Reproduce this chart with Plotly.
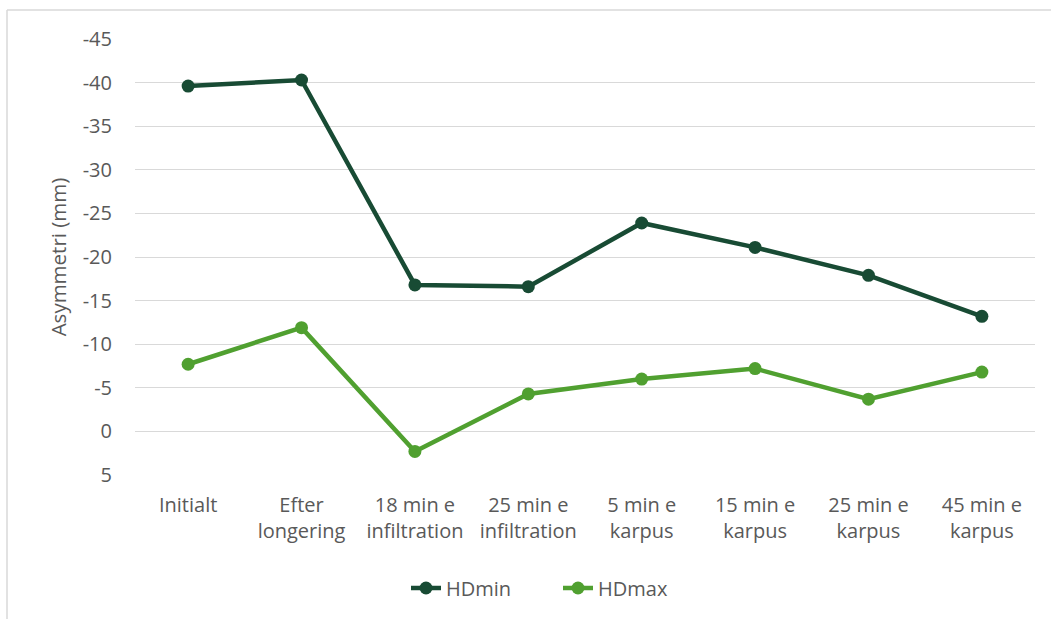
import plotly.graph_objects as go

categories = ["Initialt", "Efter<br>longering", "18 min e<br>infiltration", "25 min e<br>infiltration",
              "5 min e<br>karpus", "15 min e<br>karpus", "25 min e<br>karpus", "45 min e<br>karpus"]
hdmin = [-39.6, -40.3, -16.8, -16.6, -23.9, -21.1, -17.9, -13.2]
hdmax = [-7.7, -11.9, 2.3, -4.3, -6.0, -7.2, -3.7, -6.8]
y_ticks = [5, 0, -5, -10, -15, -20, -25, -30, -35, -40, -45]

FONT = "Open Sans"
GRAY = "#595959"

fig = go.Figure()
fig.add_trace(go.Scatter(x=categories, y=hdmin, name="HDmin", mode="lines+markers",
                         line=dict(color="#184B34", width=4.5), marker=dict(size=13, color="#184B34")))
fig.add_trace(go.Scatter(x=categories, y=hdmax, name="HDmax", mode="lines+markers",
                         line=dict(color="#50A030", width=4.5), marker=dict(size=13, color="#50A030")))

W, H = 1051, 619
L, R, T, B = 135, 16, 39, 144
pw, ph = W - L - R, H - T - B

def px(x):
    return (x - L) / pw

def py(y):
    return (H - B - y) / ph

fig.update_layout(
    width=W, height=H,
    margin=dict(l=L, r=R, t=T, b=B),
    paper_bgcolor="white", plot_bgcolor="white",
    font=dict(family=FONT, color=GRAY, size=20),
    showlegend=True,
    legend=dict(orientation="h", x=px(406), xanchor="left", y=py(588), yanchor="middle",
                font=dict(size=20, color=GRAY), traceorder="normal",
                entrywidth=107, entrywidthmode="pixels"),
    xaxis=dict(showgrid=False, showline=False, ticks="", ticklabelstandoff=16,
               tickfont=dict(size=20, color=GRAY)),
    yaxis=dict(range=[5, -45], tickvals=y_ticks, ticktext=[str(v) for v in y_ticks],
               showgrid=True, gridcolor="#D9D9D9", gridwidth=1.3, zeroline=False, showline=False,
               ticks="", ticklabelstandoff=22, tickfont=dict(size=20, color=GRAY),
               title=dict(text="Asymmetri (mm)", font=dict(size=20.5, color=GRAY), standoff=10)),
    shapes=[
        dict(type="line", xref="paper", yref="paper", x0=px(7), x1=px(1060), y0=py(10), y1=py(10),
             line=dict(color="#D9D9D9", width=1.5)),
        dict(type="line", xref="paper", yref="paper", x0=px(7), x1=px(7), y0=py(10), y1=py(630),
             line=dict(color="#D9D9D9", width=1.5)),
    ],
)

fig.write_html("out.html", config={"displayModeBar": False},
               post_script="document.body.style.margin='0';")
